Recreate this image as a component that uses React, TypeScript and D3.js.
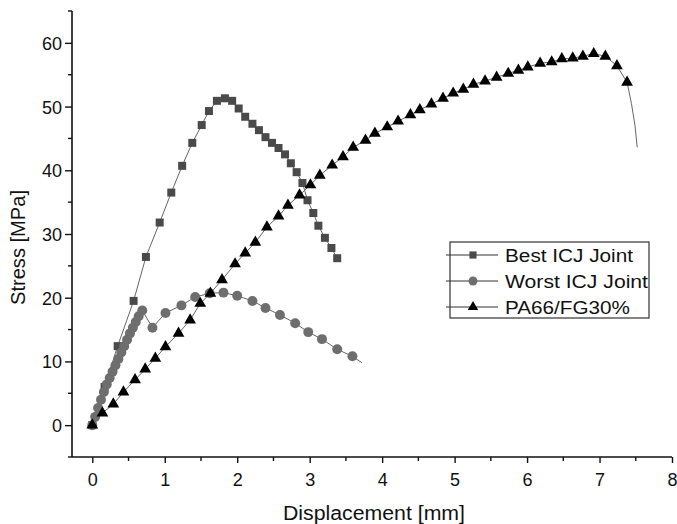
import React, { useEffect, useRef } from "react";
import * as d3 from "d3";

// Chart frame (pixels)
const W = 677;
const H = 524;
const plot = { left: 72, right: 672, top: 11, bottom: 457 };

// Axis settings
const xDomain = [-0.28, 8];
const yDomain = [-5, 65];
const xTicks = [0, 1, 2, 3, 4, 5, 6, 7, 8];
const yTicks = [0, 10, 20, 30, 40, 50, 60];
const xMinor = [-0.5, 0.5, 1.5, 2.5, 3.5, 4.5, 5.5, 6.5, 7.5];
const yMinor = [-5, 5, 15, 25, 35, 45, 55, 65];

// Best ICJ Joint (squares)
const bestX = [0, 0.17, 0.35, 0.57, 0.74, 0.93, 1.09, 1.24, 1.38, 1.51, 1.61, 1.72, 1.83, 1.93, 2.02, 2.11, 2.21, 2.3, 2.39, 2.48, 2.57, 2.66, 2.74, 2.82, 2.9, 2.97, 3.05, 3.12, 3.21, 3.3, 3.38];
const bestY = [0, 6, 12.4, 19.5, 26.4, 31.8, 36.5, 40.7, 44.3, 47.1, 49.3, 50.9, 51.3, 50.9, 49.7, 48.4, 47.3, 46.3, 45.2, 44.3, 43.5, 42.5, 41.1, 39.7, 38, 35.3, 33.3, 31.3, 29.4, 27.8, 26.2];

// Worst ICJ Joint (circles)
const worstX = [0, 0.04, 0.08, 0.12, 0.16, 0.2, 0.24, 0.28, 0.32, 0.36, 0.4, 0.44, 0.48, 0.52, 0.56, 0.6, 0.64, 0.69, 0.83, 1.01, 1.23, 1.42, 1.62, 1.81, 2.0, 2.21, 2.39, 2.59, 2.8, 2.98, 3.17, 3.38, 3.59];
const worstY = [0, 1.3, 2.7, 4.0, 5.2, 6.4, 7.4, 8.4, 9.4, 10.4, 11.4, 12.4, 13.4, 14.4, 15.3, 16.2, 17.1, 18, 15.3, 17.6, 18.8, 20.1, 20.7, 20.8, 20.3, 19.5, 18.4, 17.3, 16, 14.6, 13.5, 11.9, 10.8];
const worstTailX = [3.59, 3.72];
const worstTailY = [10.8, 9.8];

// PA66/FG30% (triangles)
const paX = [0, 0.14, 0.29, 0.43, 0.59, 0.73, 0.87, 1.01, 1.19, 1.35, 1.49, 1.63, 1.79, 1.97, 2.11, 2.25, 2.41, 2.57, 2.7, 2.86, 3.01, 3.14, 3.31, 3.46, 3.6, 3.77, 3.9, 4.07, 4.22, 4.39, 4.52, 4.68, 4.84, 4.98, 5.12, 5.26, 5.42, 5.58, 5.74, 5.88, 6.01, 6.18, 6.34, 6.48, 6.63, 6.77, 6.92, 7.08, 7.24, 7.38];
const paY = [0, 1.9, 3.3, 5.2, 7.1, 8.8, 10.5, 12.3, 14.4, 16.5, 19.1, 20.7, 22.8, 25.3, 27, 28.7, 31.1, 32.8, 34.5, 36.1, 37.7, 39.2, 40.8, 42.1, 43.6, 44.7, 45.8, 46.8, 47.7, 48.7, 49.5, 50.4, 51.3, 52.1, 52.7, 53.5, 54, 54.6, 55.2, 55.7, 56.2, 56.8, 57, 57.5, 57.6, 57.9, 58.3, 57.9, 56.4, 53.8];
const paTailX = [7.38, 7.44, 7.49, 7.52];
const paTailY = [53.8, 50.5, 47, 43.6];

const legendLabels = ["Best ICJ Joint", "Worst ICJ Joint", "PA66/FG30%"];
const legendWidths = [128, 143, 125];
const markerColors = ["#4a4a4a", "#6e6e6e", "#000000"];
const lineColor = "#666";
const font = "'Liberation Sans', Arial, sans-serif";

function toPoints(xs: number[], ys: number[]) {
    return xs.map((x, i) => [x, ys[i]] as [number, number]);
}

function Chart() {
    const ref = useRef<SVGSVGElement>(null);

    useEffect(() => {
        const svg = d3.select(ref.current).html("");

        const xScale = d3.scaleLinear().domain(xDomain).range([plot.left, plot.right]);
        const yScale = d3.scaleLinear().domain(yDomain).range([plot.bottom, plot.top]);

        const line = d3.line<[number, number]>()
            .x((d) => xScale(d[0]))
            .y((d) => yScale(d[1]));

        const g = svg.append("g");

        // Axes
        const xAxis = g.append("g").attr("transform", "translate(0," + plot.bottom + ")")
            .call(d3.axisBottom(xScale).tickValues(xTicks).tickSize(6).tickFormat(d3.format("d")));
        const yAxis = g.append("g").attr("transform", "translate(" + plot.left + ",0)")
            .call(d3.axisLeft(yScale).tickValues(yTicks).tickSize(7).tickFormat(d3.format("d")));

        [xAxis, yAxis].forEach((a) => {
            a.select(".domain").attr("stroke", "#111").attr("stroke-width", 1.6);
            a.selectAll(".tick line").attr("stroke", "#111").attr("stroke-width", 1.4);
            a.selectAll(".tick text").attr("font-family", font).attr("font-size", 18).attr("fill", "#111");
        });
        xAxis.select(".domain").attr("d", "M" + plot.left + ",0H" + plot.right);
        yAxis.select(".domain").attr("d", "M0," + plot.bottom + "V" + plot.top);
        xAxis.selectAll(".tick text").attr("y", 29).attr("dy", null);
        yAxis.selectAll(".tick text").attr("x", -10).attr("dy", "0.36em");

        // Minor ticks
        g.append("g").selectAll("line")
            .data(xMinor.filter((v) => v >= xDomain[0]))
            .enter().append("line")
            .attr("x1", (d) => xScale(d)).attr("x2", (d) => xScale(d))
            .attr("y1", plot.bottom).attr("y2", plot.bottom + 4)
            .attr("stroke", "#111").attr("stroke-width", 1.4);
        g.append("g").selectAll("line")
            .data(yMinor)
            .enter().append("line")
            .attr("y1", (d) => yScale(d)).attr("y2", (d) => yScale(d))
            .attr("x1", plot.left).attr("x2", plot.left - 4)
            .attr("stroke", "#111").attr("stroke-width", 1.4);

        // Axis titles
        g.append("text")
            .attr("x", 283).attr("y", 520)
            .attr("textLength", 182).attr("lengthAdjust", "spacingAndGlyphs")
            .attr("font-family", font).attr("font-size", 20).attr("fill", "#111")
            .text("Displacement [mm]");
        g.append("text")
            .attr("transform", "translate(25,305) rotate(-90)")
            .attr("textLength", 115).attr("lengthAdjust", "spacingAndGlyphs")
            .attr("font-family", font).attr("font-size", 20).attr("fill", "#111")
            .text("Stress [MPa]");

        const best = toPoints(bestX, bestY);
        const worst = toPoints(worstX, worstY);
        const pa = toPoints(paX, paY);

        // Lines
        [best, worst.concat(toPoints(worstTailX, worstTailY).slice(1)), pa.concat(toPoints(paTailX, paTailY).slice(1))]
            .forEach((pts) => {
                g.append("path").attr("d", line(pts)).attr("fill", "none")
                    .attr("stroke", lineColor).attr("stroke-width", 1);
            });

        const sym = [d3.symbolSquare, d3.symbolCircle, d3.symbolTriangle];
        const sizes = [64, 78, 60];

        // Markers
        [best, worst, pa].forEach((pts, i) => {
            g.append("g").selectAll("path")
                .data(pts)
                .enter().append("path")
                .attr("transform", (d) => "translate(" + xScale(d[0]) + "," + yScale(d[1]) + ")")
                .attr("d", d3.symbol().type(sym[i]).size(sizes[i])())
                .attr("fill", markerColors[i]);
        });

        // Legend
        const lg = g.append("g");
        lg.append("rect")
            .attr("x", 450).attr("y", 242).attr("width", 199).attr("height", 76)
            .attr("fill", "white").attr("stroke", "#333").attr("stroke-width", 1.2);
        const rows = [255, 281, 307];
        legendLabels.forEach((label, i) => {
            lg.append("line")
                .attr("x1", 446).attr("x2", 498).attr("y1", rows[i]).attr("y2", rows[i])
                .attr("stroke", "#333").attr("stroke-width", 1);
            lg.append("path")
                .attr("transform", "translate(473," + rows[i] + ")")
                .attr("d", d3.symbol().type(sym[i]).size(sizes[i] * 0.8)())
                .attr("fill", markerColors[i]);
            lg.append("text")
                .attr("x", 505).attr("y", rows[i] + 6.5)
                .attr("textLength", legendWidths[i]).attr("lengthAdjust", "spacingAndGlyphs")
                .attr("font-family", font).attr("font-size", 18).attr("fill", "#111")
                .text(label);
        });
    }, []);

    return <svg ref={ref} width={W} height={H}></svg>;
}

export default function App() {
    return (
        <div style={{ position: "absolute", left: 0, top: 0, background: "white" }}>
            <Chart />
        </div>
    );
}
